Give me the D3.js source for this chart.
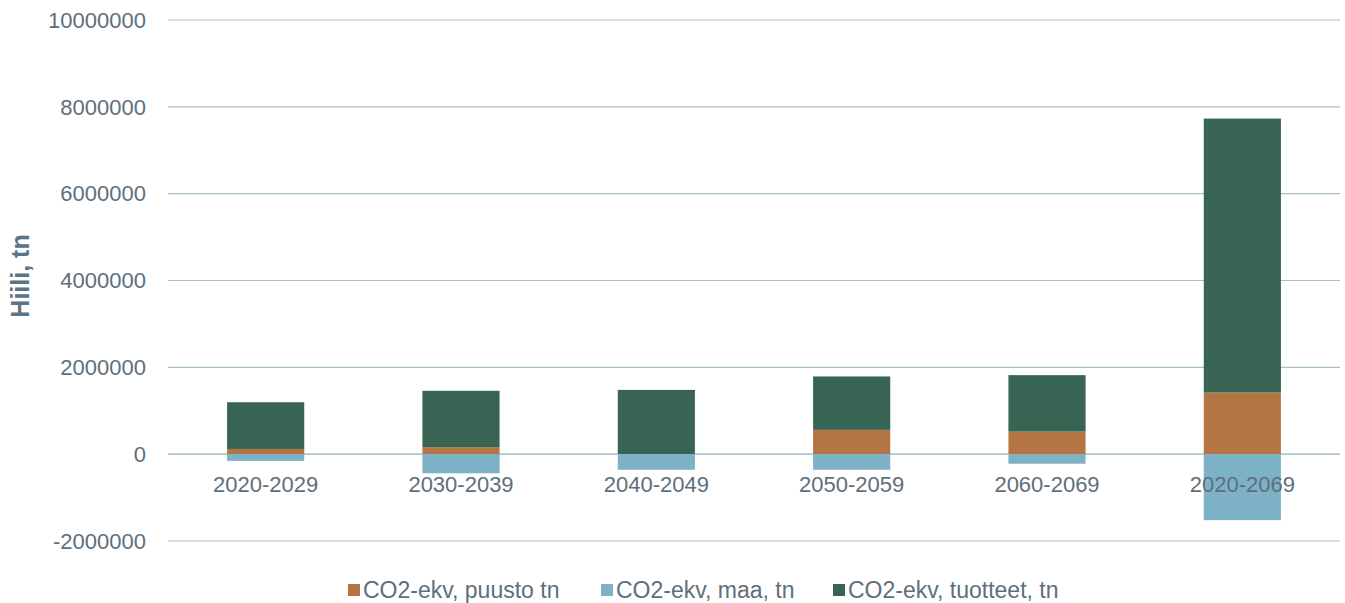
<!DOCTYPE html>
<html>
<head>
<meta charset="utf-8">
<script src="https://cdn.jsdelivr.net/npm/d3@7"></script>
<style>
body { margin: 0; background: #fff; }
text { font-family: "Liberation Sans", Arial, sans-serif; }
</style>
</head>
<body>
<div class="chart"></div>
<script>
'use strict';
var categories = ["2020-2029", "2030-2039", "2040-2049", "2050-2059", "2060-2069", "2020-2069"];
var puusto = [120000, 160000, 0, 560000, 520000, 1420000];
var maa = [-155000, -440000, -360000, -360000, -220000, -1520000];
var tuotteet = [1076000, 1300000, 1480000, 1230000, 1300000, 6310000];
var seriesNames = ["CO2-ekv, puusto tn", "CO2-ekv, maa, tn", "CO2-ekv, tuotteet, tn"];
var colors = ["#b37544", "#7db2c6", "#386453"];
var yTicks = [-2000000, 0, 2000000, 4000000, 6000000, 8000000, 10000000];

var margin = {top: 20, bottom: 62, left: 168, right: 5};
var W = 1345, H = 603;
var svg = {w: W - margin.left - margin.right, h: H - margin.top - margin.bottom};

var chart = d3.select(".chart")
	.append("svg")
		.attr("width", W)
		.attr("height", H);

var g = chart.append("g")
	.attr("transform", "translate(" + margin.left + "," + margin.top + ")");

var xScale = d3.scaleBand()
	.domain(categories)
	.range([0, svg.w])
	.paddingInner(0.605)
	.paddingOuter(0.3025);

var yScale = d3.scaleLinear()
	.domain([-2000000, 10000000])
	.range([521, 0]);

// gridlines
g.selectAll(".grid")
	.data(yTicks)
	.enter().append("line")
		.attr("x1", 0)
		.attr("x2", svg.w)
		.attr("y1", (d) => yScale(d))
		.attr("y2", (d) => yScale(d))
		.attr("stroke", (d) => d === 0 ? "#8fb0c2" : "#a7bfcb")
		.attr("stroke-width", 1.2);

// y tick labels
g.selectAll(".ylab")
	.data(yTicks)
	.enter().append("text")
		.attr("x", -22)
		.attr("y", (d) => yScale(d))
		.attr("dy", "0.35em")
		.attr("text-anchor", "end")
		.attr("fill", "#5d6f7c")
		.style("font-size", "22px")
		.text((d) => d);

// stacked bars: positive puusto then tuotteet, negative maa
var rows = categories.map((c, i) => ({cat: c, puusto: puusto[i], maa: maa[i], tuotteet: tuotteet[i]}));

var bars = g.append("g");
rows.forEach(function(r) {
	var x = xScale(r.cat), bw = xScale.bandwidth();
	var segs = [
		{y0: 0, y1: r.puusto, c: colors[0]},
		{y0: r.puusto, y1: r.puusto + r.tuotteet, c: colors[2]},
		{y0: r.maa, y1: 0, c: colors[1]}
	];
	bars.selectAll(null)
		.data(segs)
		.enter().append("rect")
			.attr("x", x)
			.attr("width", bw)
			.attr("y", (d) => yScale(d.y1))
			.attr("height", (d) => yScale(d.y0) - yScale(d.y1))
			.attr("fill", (d) => d.c);
});

// category labels over bars
g.selectAll(".xlab")
	.data(categories)
	.enter().append("text")
		.attr("x", (d) => xScale(d) + xScale.bandwidth() / 2)
		.attr("y", yScale(0) + 38)
		.attr("text-anchor", "middle")
		.attr("fill", "#5d6f7c")
		.style("font-size", "22px")
		.text((d) => d);

// axis title
chart.append("text")
	.attr("transform", "translate(29,276) rotate(-90)")
	.attr("text-anchor", "middle")
	.attr("fill", "#5b7486")
	.style("font-size", "25px")
	.style("font-weight", "bold")
	.text("Hiili, tn");

// legend
var legendX = [348, 601, 833];
var legend = chart.selectAll(".legend")
	.data(seriesNames)
	.enter().append("g")
		.attr("transform", (d, i) => "translate(" + legendX[i] + ",590)");
legend.append("rect")
	.attr("x", 0).attr("y", -6)
	.attr("width", 12).attr("height", 12)
	.attr("fill", (d, i) => colors[i]);
legend.append("text")
	.attr("x", 15)
	.attr("dy", "0.35em")
	.attr("fill", "#5d6f7c")
	.style("font-size", "23px")
	.text((d) => d);
</script>
</body>
</html>
